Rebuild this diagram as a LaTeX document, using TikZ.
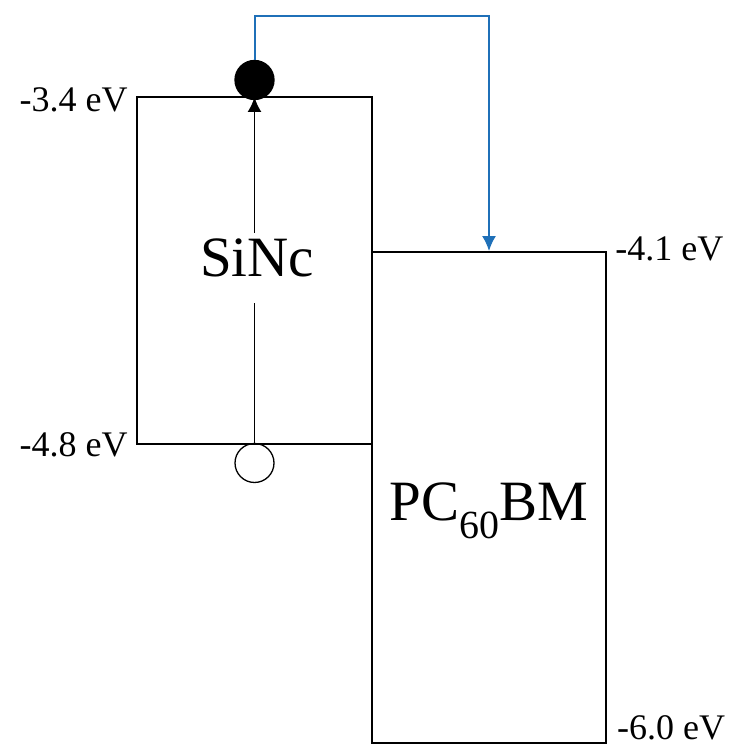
\documentclass[tikz,border=0pt]{standalone}
\usepackage{fontspec}
\setmainfont{Liberation Serif}
\usetikzlibrary{arrows.meta,positioning}
\definecolor{trblue}{RGB}{31,112,184}
\begin{document}
\begin{tikzpicture}[x=1pt,y=1pt,>=Latex,
band/.style={draw,line width=1.8pt,inner sep=0pt},
lvl/.style={font=\fontsize{36}{42}\selectfont},
big/.style={font=\fontsize{57}{68}\selectfont,anchor=base,inner sep=0pt},
carrier/.style={circle,draw,line width=1.3pt,minimum size=39pt,inner sep=0pt},
arr/.style={-{Latex[length=15pt,width=14pt]},line width=1.8pt},
barr/.style={-{Latex[length=15pt,width=14pt]},line width=2pt,color=trblue}]
\useasboundingbox (0,0) rectangle (734,750);
% bands
\node[band,minimum width=235pt,minimum height=347pt] (sinc) at (254.5,479.5) {};
\node[band,minimum width=234pt,minimum height=491pt] (pcbm) at (489,252.5) {};
% electron and hole
\node[carrier] (hole) at (254.5,287) {};
\draw[arr] (hole.north) -- (254.5,653);
\node[carrier,fill=black] (elec) at (254.5,670) {};
\node[big,fill=white,text height=44pt,text depth=26pt] (sinctxt) at (257,473) {SiNc};
\node[big] (pcbmtxt) at (489,229) {PC\textsubscript{60}BM};
% transfer
\draw[barr] (elec.north) -- ++(0,44) -| (pcbm.north);
% levels
\node[lvl,left=5pt of sinc.north west,yshift=-4pt] (lumo1) {-3.4 eV};
\node[lvl,left=5pt of sinc.south west] (homo1) {-4.8 eV};
\node[lvl,right=5pt of pcbm.north east,yshift=2pt] (lumo2) {-4.1 eV};
\node[lvl,inner sep=2pt,right=8pt of pcbm.south east,anchor=base west,yshift=4pt] (homo2) {-6.0 eV};
\end{tikzpicture}
\end{document}
